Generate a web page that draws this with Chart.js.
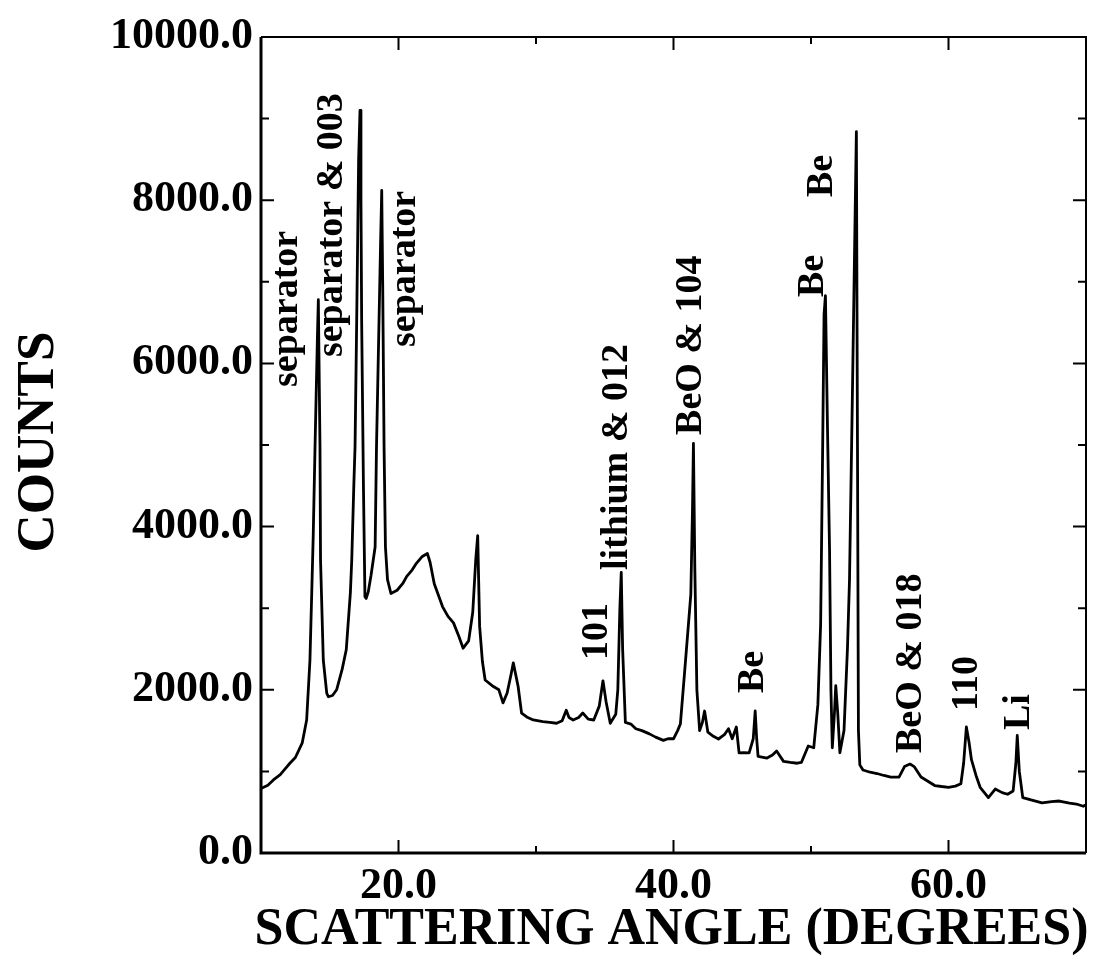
<!DOCTYPE html>
<html>
<head>
<meta charset="utf-8">
<script src="https://cdn.jsdelivr.net/npm/chart.js@4.4.1/dist/chart.umd.min.js"></script>
<style>
  html, body { margin: 0; padding: 0; background: #fff; }
  #wrap { width: 1100px; height: 964px; }
</style>
</head>
<body>
<div id="wrap"><canvas id="xrd"></canvas></div>
<script>
// scattering angle (degrees) and detector counts, read point by point
const angles = [
  10.0, 10.5, 10.9, 11.4, 11.8, 12.1, 12.5, 13.0, 13.32, 13.56, 13.69, 13.8, 13.93, 14.1, 14.17,
  14.29, 14.33, 14.53, 14.78, 14.9, 15.2, 15.5, 15.9, 16.2, 16.5, 16.6, 16.75, 16.84, 16.96, 17.1,
  17.2, 17.27, 17.32, 17.45, 17.56, 17.65, 17.8, 18.0, 18.3, 18.4, 18.7, 18.78, 18.85, 18.95, 19.05,
  19.2, 19.45, 19.9, 20.3, 20.6, 21.0, 21.3, 21.7, 22.1, 22.3, 22.6, 23.2, 23.6, 24.0, 24.4,
  24.7, 25.1, 25.4, 25.62, 25.76, 25.9, 26.1, 26.3, 26.9, 27.3, 27.6, 27.9, 28.2, 28.35, 28.7,
  28.95, 29.4, 29.8, 30.5, 31.0, 31.5, 31.9, 32.2, 32.4, 32.7, 33.1, 33.4, 33.8, 34.2, 34.6,
  34.87, 35.1, 35.4, 35.8, 35.95, 36.1, 36.2, 36.3, 36.5, 36.9, 37.26, 37.7, 38.25, 38.7, 39.26,
  39.6, 40.0, 40.3, 40.5, 40.8, 41.0, 41.26, 41.38, 41.45, 41.55, 41.7, 41.9, 42.1, 42.26, 42.5,
  42.9, 43.27, 43.7, 44.0, 44.27, 44.57, 44.77, 45.1, 45.5, 45.8, 45.94, 46.05, 46.15, 46.8, 47.2,
  47.5, 48.0, 48.5, 49.0, 49.3, 49.8, 50.2, 50.5, 50.7, 50.85, 50.95, 51.05, 51.2, 51.35, 51.45,
  51.55, 51.7, 51.8, 51.95, 52.1, 52.4, 52.65, 52.8, 53.0, 53.3, 53.38, 53.45, 53.55, 53.78, 54.3,
  54.8, 55.3, 55.8, 56.4, 56.8, 57.2, 57.5, 58.0, 58.5, 59.0, 59.5, 60.0, 60.5, 60.9, 61.1,
  61.3, 61.5, 61.67, 62.0, 62.3, 62.9, 63.4, 63.9, 64.3, 64.7, 64.9, 65.0, 65.15, 65.4, 66.0,
  66.8, 67.5, 68.06, 68.8, 69.3, 69.8, 70.0
];
const counts = [
  790, 830, 895, 960, 1040, 1100, 1170, 1350, 1630, 2365, 3190, 3900, 4980, 6300, 6780,
  4980, 3590, 2365, 1960, 1915, 1930, 2000, 2250, 2490, 3190, 3590, 4500, 4980, 6530, 8500,
  9100, 8000, 6530, 4500, 3140, 3120, 3200, 3400, 3750, 4980, 7500, 8120, 7000, 4980, 3750,
  3350, 3180, 3220, 3300, 3390, 3470, 3550, 3630, 3670, 3560, 3300, 3020, 2900, 2820, 2650,
  2510, 2600, 2950, 3600, 3890, 2780, 2350, 2120, 2040, 2000, 1840, 1960, 2200, 2330, 2040,
  1715, 1660, 1630, 1610, 1600, 1590, 1620, 1750, 1660, 1630, 1660, 1715, 1640, 1630, 1800,
  2110, 1850, 1590, 1700, 2000, 3000, 3440, 2500, 1600, 1580, 1523, 1500, 1460, 1420, 1380,
  1400, 1400, 1500, 1580, 2200, 2620, 3170, 4200, 5020, 3500, 2000, 1500, 1600, 1740, 1480,
  1430, 1397, 1450, 1523, 1400, 1544, 1228, 1230, 1228, 1400, 1740, 1400, 1185, 1164, 1200,
  1250, 1123, 1110, 1100, 1110, 1311, 1290, 1818, 2800, 5000, 6600, 6830, 5200, 3700, 2000,
  1290, 1700, 2050, 1700, 1228, 1500, 2500, 3345, 5500, 8840, 5000, 1500, 1080, 1017, 990,
  974, 950, 931, 931, 1059, 1090, 1059, 931, 880, 827, 815, 805, 820, 848, 1100,
  1544, 1350, 1143, 950, 805, 679, 784, 740, 720, 760, 1100, 1440, 1000, 679, 650,
  615, 630, 637, 610, 600, 573, 590
];

const xTicks = [20, 40, 60];
const xMinorTicks = [30, 50];
const yTicks = [0, 2000, 4000, 6000, 8000, 10000];
const yMinorTicks = [1000, 3000, 5000, 7000, 9000];

// peak names, placed where each vertical label starts (angle, counts)
const peakNames = ['separator', 'separator & 003', 'separator', '101', 'lithium & 012', 'BeO & 104',
  'Be', 'Be', 'Be', 'BeO & 018', '110', 'Li'];
const nameAngles = [12.62, 15.89, 21.2, 35.16, 36.62, 42.0, 46.5, 50.87, 51.53, 58.0, 62.07, 65.85];
const nameCounts = [5711, 6078, 6201, 2365, 3468, 5123, 1961, 6814, 8039, 1225, 1740, 1507];

const SERIF = '"Liberation Serif", "Times New Roman", serif';

const framePlugin = {
  id: 'frame',
  afterDatasetsDraw(chart) {
    const ctx = chart.ctx;
    const xs = chart.scales.x, ys = chart.scales.y;
    const a = chart.chartArea;
    ctx.save();
    ctx.strokeStyle = '#000';
    ctx.lineCap = 'butt';

    // box
    ctx.lineWidth = 3;
    ctx.beginPath();
    ctx.moveTo(a.left, a.top); ctx.lineTo(a.left, a.bottom); ctx.lineTo(a.right, a.bottom);
    ctx.stroke();
    ctx.lineWidth = 2;
    ctx.beginPath();
    ctx.moveTo(a.left, a.top); ctx.lineTo(a.right, a.top); ctx.lineTo(a.right, a.bottom);
    ctx.stroke();

    // inward tick marks on all four sides
    ctx.lineWidth = 2;
    const tickX = (v, len) => {
      const px = xs.getPixelForValue(v);
      ctx.beginPath();
      ctx.moveTo(px, a.bottom); ctx.lineTo(px, a.bottom - len);
      ctx.moveTo(px, a.top); ctx.lineTo(px, a.top + len);
      ctx.stroke();
    };
    const tickY = (v, len) => {
      const py = ys.getPixelForValue(v);
      ctx.beginPath();
      ctx.moveTo(a.left, py); ctx.lineTo(a.left + len, py);
      ctx.moveTo(a.right, py); ctx.lineTo(a.right - len, py);
      ctx.stroke();
    };
    xTicks.forEach(v => tickX(v, 13));
    xMinorTicks.forEach(v => tickX(v, 7));
    yTicks.forEach(v => tickY(v, 13));
    yMinorTicks.forEach(v => tickY(v, 8));

    // tick labels
    ctx.fillStyle = '#000';
    ctx.font = 'bold 44px ' + SERIF;
    ctx.textBaseline = 'alphabetic';
    ctx.textAlign = 'right';
    yTicks.forEach(v => {
      ctx.fillText(v.toFixed(1), a.left - 8, ys.getPixelForValue(v) + 11);
    });
    ctx.textAlign = 'center';
    xTicks.forEach(v => {
      ctx.fillText(v.toFixed(1), xs.getPixelForValue(v), a.bottom + 45);
    });

    // axis titles
    ctx.font = 'bold 52px ' + SERIF;
    ctx.fillText('SCATTERING ANGLE (DEGREES)', (a.left + a.right) / 2 - 2, a.bottom + 91);
    ctx.save();
    ctx.translate(53, 442);
    ctx.rotate(-Math.PI / 2);
    ctx.font = 'bold 53px ' + SERIF;
    ctx.fillText('COUNTS', 0, 0);
    ctx.restore();

    // peak names, written bottom to top
    ctx.font = 'bold 38px ' + SERIF;
    ctx.textAlign = 'left';
    peakNames.forEach((name, i) => {
      ctx.save();
      ctx.translate(xs.getPixelForValue(nameAngles[i]), ys.getPixelForValue(nameCounts[i]));
      ctx.rotate(-Math.PI / 2);
      ctx.fillText(name, 0, 0);
      ctx.restore();
    });
    ctx.restore();
  }
};

new Chart(document.getElementById('xrd'), {
  type: 'line',
  data: {
    datasets: [{
      data: angles.map((a, i) => ({ x: a, y: counts[i] })),
      borderColor: '#000',
      borderWidth: 2.8,
      borderJoinStyle: 'round',
      pointRadius: 0,
      tension: 0,
      fill: false
    }]
  },
  options: {
    responsive: true,
    maintainAspectRatio: false,
    animation: false,
    layout: { padding: { left: 261, right: 14, top: 37, bottom: 111 } },
    plugins: { legend: { display: false }, tooltip: { enabled: false } },
    scales: {
      x: { type: 'linear', min: 10, max: 70, display: false },
      y: { type: 'linear', min: 0, max: 10000, display: false }
    }
  },
  plugins: [framePlugin]
});
</script>
</body>
</html>
